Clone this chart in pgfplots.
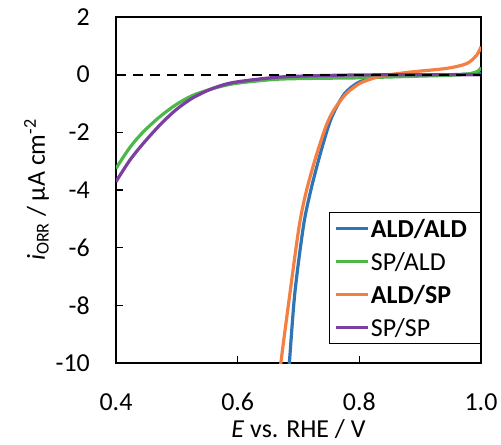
\documentclass[border=0pt]{standalone}
\usepackage{fontspec}
\setmainfont{Carlito}
\usepackage{pgfplots}
\pgfplotsset{compat=1.18}

\definecolor{cblue}{HTML}{2E75B6}
\definecolor{cgreen}{HTML}{4DB748}
\definecolor{corange}{HTML}{F47F43}
\definecolor{cpurple}{HTML}{7A3FA0}

\begin{document}
\begin{tikzpicture}
\begin{axis}[
    name=ax, scale only axis, width=365bp, height=346bp,
    xmin=0.4, xmax=1.0, ymin=-10, ymax=2,
    xtick={0.4,0.6,0.8,1.0}, ytick={-10,-8,-6,-4,-2,0,2},
    tick align=inside, xtick pos=bottom, ytick pos=left,
    major tick length=7bp,
    axis line style={line width=1.2bp},
    tick style={black, line width=1.2bp},
    font=\fontsize{26}{30}\selectfont,
    /pgf/number format/assume math mode=true,
    x tick label style={/pgf/number format/fixed, /pgf/number format/fixed zerofill,
        /pgf/number format/precision=1, inner sep=0pt, anchor=north, yshift=-30bp},
    y tick label style={inner sep=0pt, anchor=east, xshift=-26bp},
    xlabel={\textit{E} vs. RHE / V},
    xlabel style={at={(axis description cs:0.5,-0.216)}, anchor=base},
    ylabel={\textit{i}\textsubscript{ORR} / µA cm\textsuperscript{-2}},
    ylabel style={at={(axis description cs:-0.195,0.5)}, anchor=base, rotate=0},
    legend cell align=left,
    legend style={at={(axis description cs:0.584,0.436)}, anchor=north west,
        draw=black, line width=1.2bp, font=\fontsize{26}{30}\selectfont,
        inner xsep=5bp, inner ysep=2.4bp, row sep=5.8bp,
        nodes={inner sep=1bp, text height=21bp, text depth=4.2bp}},
    legend image code/.code={\draw[#1] (0bp,0bp) -- (32bp,0bp);},
    every axis plot/.append style={line width=3.2bp},
]
\addplot[cblue, smooth] coordinates {
(0.683,-10.6) (0.685,-10) (0.694,-7.57) (0.708,-5.27) (0.719,-4.12) (0.733,-2.96)
(0.749,-1.80) (0.760,-1.23) (0.776,-0.65) (0.796,-0.30) (0.817,-0.13) (0.84,-0.06)
(0.87,-0.03) (0.9,-0.01) (0.95,0.0) (0.98,0.02) (1.0,0.05)};
\addlegendentry{\makebox[104bp][l]{\textbf{ALD/ALD}}}
\addplot[cgreen, smooth] coordinates {
(0.4,-3.25) (0.423,-2.52) (0.445,-1.98) (0.472,-1.46) (0.498,-1.05) (0.525,-0.73)
(0.555,-0.51) (0.582,-0.36) (0.609,-0.27) (0.664,-0.16) (0.72,-0.13) (0.8,-0.11)
(0.85,-0.08) (0.9,-0.05) (0.95,-0.02) (0.98,0.03) (0.995,0.12) (1.0,0.25)};
\addlegendentry{SP/ALD}
\addplot[corange, smooth] coordinates {
(0.669,-10.6) (0.671,-10) (0.686,-7.57) (0.701,-5.27) (0.712,-4.12) (0.727,-2.96)
(0.745,-1.80) (0.758,-1.23) (0.779,-0.65) (0.801,-0.30) (0.822,-0.13) (0.834,-0.05)
(0.85,0.0) (0.888,0.10) (0.944,0.22) (0.977,0.39) (0.993,0.68) (1.0,0.97)};
\addlegendentry{\textbf{ALD/SP}}
\addplot[cpurple, smooth] coordinates {
(0.4,-3.71) (0.423,-2.96) (0.445,-2.38) (0.472,-1.75) (0.498,-1.23) (0.525,-0.82)
(0.555,-0.51) (0.582,-0.32) (0.609,-0.22) (0.664,-0.09) (0.72,-0.04) (0.8,-0.01)
(0.9,0) (1.0,0)};
\addlegendentry{SP/SP}
\addplot[black, line width=2bp, dash pattern=on 10bp off 7bp, forget plot] coordinates {(0.4,0) (1.0,0)};
\end{axis}
\path ([shift={(-116bp,-82bp)}]ax.south west) rectangle ([shift={(20bp,17bp)}]ax.north east);
\end{tikzpicture}
\end{document}
